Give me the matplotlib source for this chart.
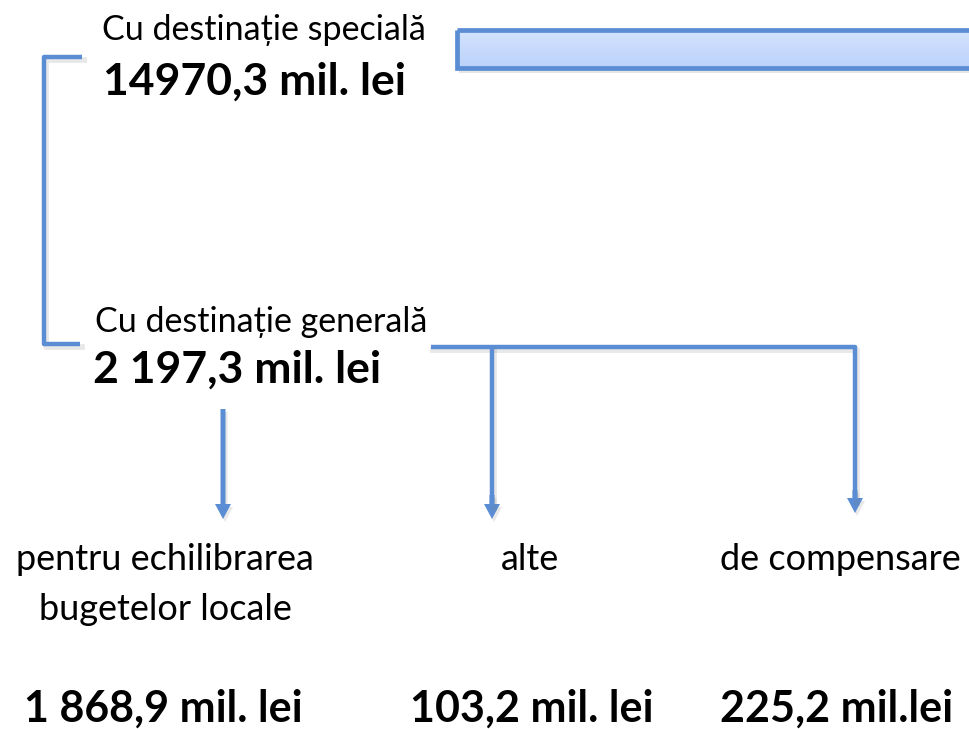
import matplotlib
matplotlib.use("Agg")
import matplotlib.pyplot as plt
import numpy as np

plt.rcParams['font.family'] = ['Lato', 'DejaVu Sans']

# texts of the diagram
top_labels = ['Cu destinație specială', 'Cu destinație generală']
top_values = ['14970,3 mil. lei', '2 197,3 mil. lei']
sub_labels = [['pentru echilibrarea', 'bugetelor locale'], ['alte'], ['de compensare']]
sub_values = ['1 868,9 mil. lei', '103,2 mil. lei', '225,2 mil.lei']

BLUE = '#5A8DD3'
SHADOW = dict(color='gray', alpha=0.18)

fig = plt.figure(figsize=(9.7, 7.29), dpi=100)
ax = fig.add_axes([0, 0, 1, 1])
ax.set_xlim(0, 970)
ax.set_ylim(729, 0)
ax.axis('off')


def polyline(xs, ys, lw=3.2):
    xs = np.array(xs, float)
    ys = np.array(ys, float)
    ax.plot(xs + 2, ys + 3, lw=lw + 1, solid_joinstyle='round', **SHADOW)
    ax.plot(xs, ys, color=BLUE, lw=lw, solid_joinstyle='round', solid_capstyle='butt')


def down_arrow(x, y0, y1):
    ax.arrow(x + 2, y0 + 3, 0, y1 - y0, width=5, head_width=16, head_length=15,
             length_includes_head=True, lw=0, **SHADOW)
    ax.arrow(x, y0, 0, y1 - y0, width=5, head_width=16, head_length=15,
             length_includes_head=True, lw=0, color=BLUE)


# top box (cut off at the right edge)
grad = np.linspace(0, 1, 50).reshape(-1, 1)
ax.imshow(grad, extent=(457, 1100, 68, 30), cmap=matplotlib.colors.LinearSegmentedColormap.from_list(
    'g', ['#D4E3FF', '#BBD2FA']), aspect='auto', zorder=1)
ax.add_patch(plt.Rectangle((459, 70), 700, 3, color='gray', alpha=0.2, lw=0, zorder=0))
ax.add_patch(plt.Rectangle((457, 30), 700, 38, fill=False, edgecolor=BLUE, lw=3.4, zorder=2))

# bracket
polyline([82, 44, 44, 80], [57, 57, 344, 344])

# branches from "Cu destinație generală"
polyline([431, 855, 855], [347, 347, 500])
down_arrow(855, 490, 513)
polyline([492, 492], [347, 505])
down_arrow(492, 495, 519)
down_arrow(223, 409, 519)

# texts
ax.text(102, 40, top_labels[0], fontsize=24.5, va='baseline', ha='left')
ax.text(103, 95, top_values[0], fontsize=32, fontweight='bold', va='baseline', ha='left')
ax.text(95, 332, top_labels[1], fontsize=24.5, va='baseline', ha='left')
ax.text(93, 383, top_values[1], fontsize=32, fontweight='bold', va='baseline', ha='left')

centers = [165, 530, 840]
val_centers = [163, 532, 837]
for cx, lines in zip(centers, sub_labels):
    for i, line in enumerate(lines):
        ax.text(cx, 570 + 50 * i, line, fontsize=26, va='baseline', ha='center')
for cx, v in zip(val_centers, sub_values):
    ax.text(cx, 722, v, fontsize=31, fontweight='bold', va='baseline', ha='center')

fig.savefig('out.png', dpi=100)
